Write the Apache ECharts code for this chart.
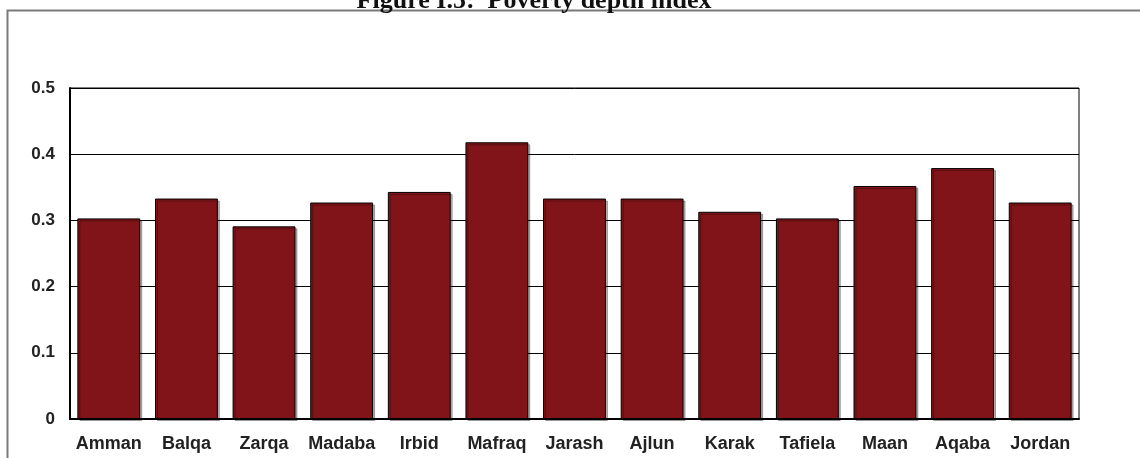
<!DOCTYPE html>
<html>
<head>
<meta charset="utf-8">
<title>Poverty depth index</title>
<script src="https://cdn.jsdelivr.net/npm/echarts@6/dist/echarts.min.js"></script>
<style>
  html, body { margin: 0; padding: 0; background: #fff; }
  #chart { width: 1140px; height: 458px; }
</style>
</head>
<body>
<div id="chart"></div>
<script>
// governorates + national figure
const categories = ['Amman', 'Balqa', 'Zarqa', 'Madaba', 'Irbid', 'Mafraq', 'Jarash', 'Ajlun', 'Karak', 'Tafiela', 'Maan', 'Aqaba', 'Jordan']
const depthIndex = [0.303, 0.333, 0.291, 0.327, 0.343, 0.418, 0.333, 0.333, 0.313, 0.303, 0.352, 0.379, 0.327]
const yTicks = [0, 0.1, 0.2, 0.3, 0.4, 0.5]

const chart = echarts.init(document.getElementById('chart'))

chart.setOption({
  animation: false,
  title: {
    text: 'Figure I.5:  Poverty depth index',
    left: 529,
    top: -17,
    textAlign: 'center',
    textStyle: {
      fontFamily: 'Liberation Serif',
      fontWeight: 'bold',
      fontSize: 26,
      color: '#111'
    }
  },
  graphic: [{
    type: 'polyline',
    silent: true,
    shape: { points: [[7.5, 460], [7.5, 10.5], [1142, 10.5]] },
    style: { stroke: '#7a7a7a', lineWidth: 2, fill: null }
  }],
  grid: {
    left: 70,
    right: 61,
    top: 88,
    bottom: 39,
    show: true,
    borderColor: '#000',
    borderWidth: 1,
    containLabel: false
  },
  xAxis: {
    type: 'category',
    data: categories,
    axisLine: { lineStyle: { color: '#000', width: 2 } },
    axisTick: { show: false },
    axisLabel: {
      interval: 0,
      margin: 16,
      fontFamily: 'Liberation Sans',
      fontWeight: 'bold',
      fontSize: 18,
      color: '#222'
    }
  },
  yAxis: {
    type: 'value',
    min: yTicks[0],
    max: yTicks[yTicks.length - 1],
    interval: 0.1,
    axisLine: { show: true, lineStyle: { color: '#000', width: 2 } },
    axisTick: { show: false },
    axisLabel: {
      margin: 15,
      fontFamily: 'Liberation Sans',
      fontWeight: 'bold',
      fontSize: 17,
      color: '#222',
      formatter: function(v) {
        return String(Math.round(v * 10) / 10)
      }
    },
    splitLine: { lineStyle: { color: '#000', width: 1 } }
  },
  series: [{
    type: 'bar',
    data: depthIndex,
    barCategoryGap: '19%',
    itemStyle: {
      color: '#801418',
      borderColor: '#000',
      borderWidth: 1,
      shadowColor: 'rgba(0,0,0,0.3)',
      shadowOffsetX: 2,
      shadowOffsetY: 2,
      shadowBlur: 0
    }
  }]
})
</script>
</body>
</html>
